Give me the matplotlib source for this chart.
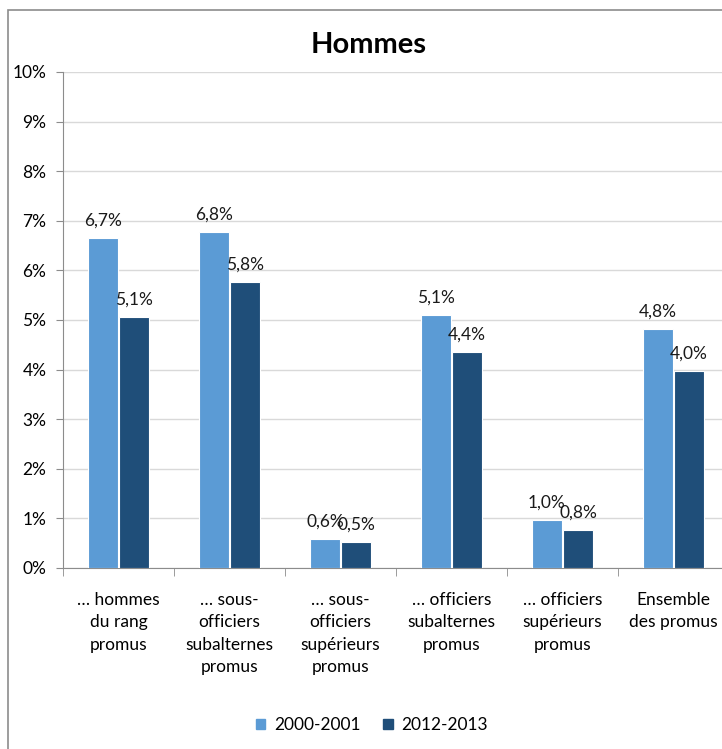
import matplotlib
matplotlib.use("Agg")
import matplotlib.pyplot as plt
import matplotlib.patches as mpatches
import numpy as np

categories = ["… hommes\ndu rang\npromus", "… sous-\nofficiers\nsubalternes\npromus",
              "… sous-\nofficiers\nsupérieurs\npromus", "… officiers\nsubalternes\npromus",
              "… officiers\nsupérieurs\npromus", "Ensemble\ndes promus"]
series_names = ["2000-2001", "2012-2013"]
values_2000 = [6.66, 6.77, 0.58, 5.10, 0.96, 4.82]
values_2012 = [5.06, 5.77, 0.52, 4.36, 0.77, 3.97]
yticks = [0, 1, 2, 3, 4, 5, 6, 7, 8, 9, 10]

plt.rcParams['font.family'] = ['Lato', 'DejaVu Sans']
W, H = 722, 749
fig = plt.figure(figsize=(W/100, H/100), dpi=100)

# outer frame
fig.patches.append(mpatches.Rectangle((8/W, -0.1), 1.2, 1 - 10/H + 0.1, transform=fig.transFigure,
                                      fill=False, edgecolor="#8c8c8c", linewidth=1.2))

ax = fig.add_axes([63/W, 1 - 568/H, 666/W, (568-72)/H])
x = np.arange(len(categories))
bw = 0.27
c1, c2 = "#5b9bd5", "#1f4e79"
b1 = ax.bar(x - bw/2 - 0.005, values_2000, bw, color=c1, edgecolor="white", linewidth=0.8, label=series_names[0], zorder=3)
b2 = ax.bar(x + bw/2 + 0.005, values_2012, bw, color=c2, edgecolor="white", linewidth=0.8, label=series_names[1], zorder=3)

for bars in (b1, b2):
    for r in bars:
        h = r.get_height()
        ax.text(r.get_x() + r.get_width()/2, h + 0.19, f"{h:.1f}%".replace(".", ","),
                ha="center", va="bottom", fontsize=12.5, color="#1a1a1a")

ax.set_xlim(-0.5, len(categories) - 0.5)
ax.set_ylim(0, 10)
ax.set_yticks(yticks)
ax.set_yticklabels([f"{t}%" for t in yticks], fontsize=12.5)
ax.yaxis.grid(True, color="#d9d9d9", linewidth=1, zorder=0)
ax.set_axisbelow(True)
ax.set_xticks(x)
ax.set_xticklabels(categories, fontsize=12.5, linespacing=1.5, va="top")
ax.set_xticks(np.arange(-0.5, len(categories) + 0.5, 1), minor=True)
ax.tick_params(axis="x", which="major", length=0, pad=17)
ax.tick_params(axis="x", which="minor", length=6, color="#8c8c8c", direction="out")
ax.tick_params(axis="y", length=5, color="#8c8c8c", pad=7)
for s in ["top", "right"]:
    ax.spines[s].set_visible(False)
for s in ["left", "bottom"]:
    ax.spines[s].set_color("#8c8c8c")

fig.text(369/W, 1 - 45/H, "Hommes", ha="center", va="center", fontsize=21, fontweight="bold")

handles = [mpatches.Patch(color=c1), mpatches.Patch(color=c2)]
fig.legend(handles, series_names, loc="center", bbox_to_anchor=(372/W, 1 - 725/H), ncol=2,
           frameon=False, fontsize=12.5, handlelength=0.55, handleheight=0.55, columnspacing=1.3, handletextpad=0.5)

fig.savefig("out.png", dpi=100)
